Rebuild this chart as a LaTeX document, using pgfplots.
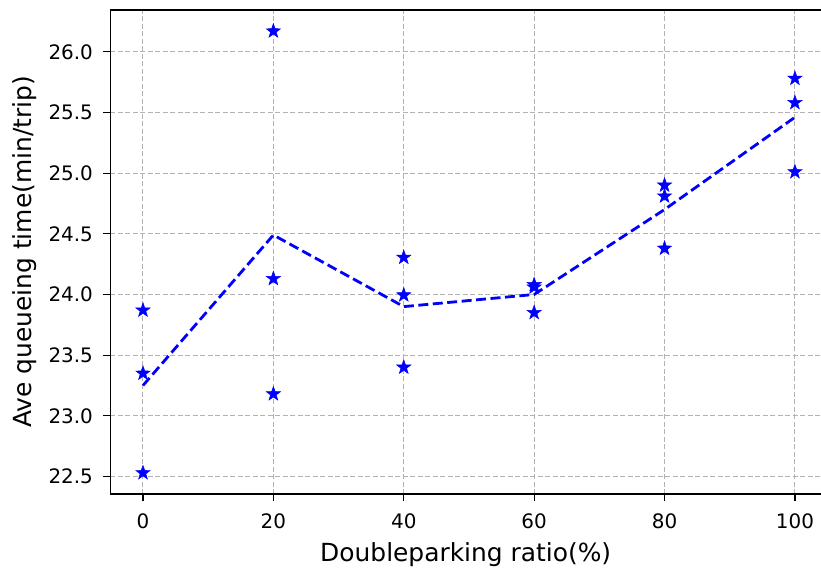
\documentclass[border=0pt]{standalone}
\usepackage{pgfplots}
\pgfplotsset{compat=1.18}
\usepackage{fontspec}
\setmainfont{DejaVu Sans}
\pgfdeclareplotmark{fstar}{%
 \pgfpathmoveto{\pgfpointpolar{90}{\pgfplotmarksize}}%
 \pgfpathlineto{\pgfpointpolar{126}{0.40\pgfplotmarksize}}%
 \pgfpathlineto{\pgfpointpolar{162}{\pgfplotmarksize}}%
 \pgfpathlineto{\pgfpointpolar{198}{0.40\pgfplotmarksize}}%
 \pgfpathlineto{\pgfpointpolar{234}{\pgfplotmarksize}}%
 \pgfpathlineto{\pgfpointpolar{270}{0.40\pgfplotmarksize}}%
 \pgfpathlineto{\pgfpointpolar{306}{\pgfplotmarksize}}%
 \pgfpathlineto{\pgfpointpolar{342}{0.40\pgfplotmarksize}}%
 \pgfpathlineto{\pgfpointpolar{18}{\pgfplotmarksize}}%
 \pgfpathlineto{\pgfpointpolar{54}{0.40\pgfplotmarksize}}%
 \pgfpathclose
 \pgfusepathqfillstroke}
\begin{document}
\begin{tikzpicture}
\begin{axis}[name=ax, at={(0,0)}, anchor=south west,
  scale only axis, width=710.6bp, height=484bp,
  xmin=-5, xmax=104, ymin=22.356, ymax=26.344,
  xtick={0,20,...,100}, ytick={22.5,23,...,26},
  yticklabel style={xshift=-7bp, /pgf/number format/.cd, fixed, fixed zerofill, precision=1},
  /pgf/number format/assume math mode=true,
  tick label style={font=\fontsize{20}{24}\selectfont},
  xticklabel style={yshift=-9bp},
  label style={font=\fontsize{25}{30}\selectfont},
  xlabel={Doubleparking ratio(\%)}, ylabel={Ave queueing time(min/trip)},
  xlabel style={yshift=-7bp},
  ylabel style={yshift=5bp},
  grid=major, major grid style={color=black!30, line width=1bp, dash pattern=on 5bp off 2.5bp},
  axis line style={draw=none},
  tick align=outside, xtick pos=left, ytick pos=left, major tick length=7bp,
  tick style={black, line width=1.2bp},
  clip=false,
]
\addplot[only marks, mark=fstar, mark size=7.5bp, blue, mark options={fill=blue, line width=0.5bp}] coordinates {
  (0,23.87) (0,23.35) (0,22.53)
  (20,26.17) (20,24.13) (20,23.18)
  (40,24.305) (40,23.995) (40,23.40)
  (60,24.08) (60,24.06) (60,23.85)
  (80,24.90) (80,24.81) (80,24.38)
  (100,25.78) (100,25.58) (100,25.01)
};
\addplot[blue, line width=2.8bp, dash pattern=on 10bp off 4.5bp] coordinates {
  (0,23.25) (20,24.49) (40,23.90) (60,24.0) (80,24.70) (100,25.46)
};
\end{axis}
\draw[line width=1.5bp, black] (ax.north east) -- (ax.north west) -- (ax.south west) -- (ax.south east);
\pgfresetboundingbox
\useasboundingbox ([xshift=-110.4bp, yshift=-77bp]ax.south west) rectangle ([yshift=10bp]ax.north east);
\end{tikzpicture}
\end{document}
